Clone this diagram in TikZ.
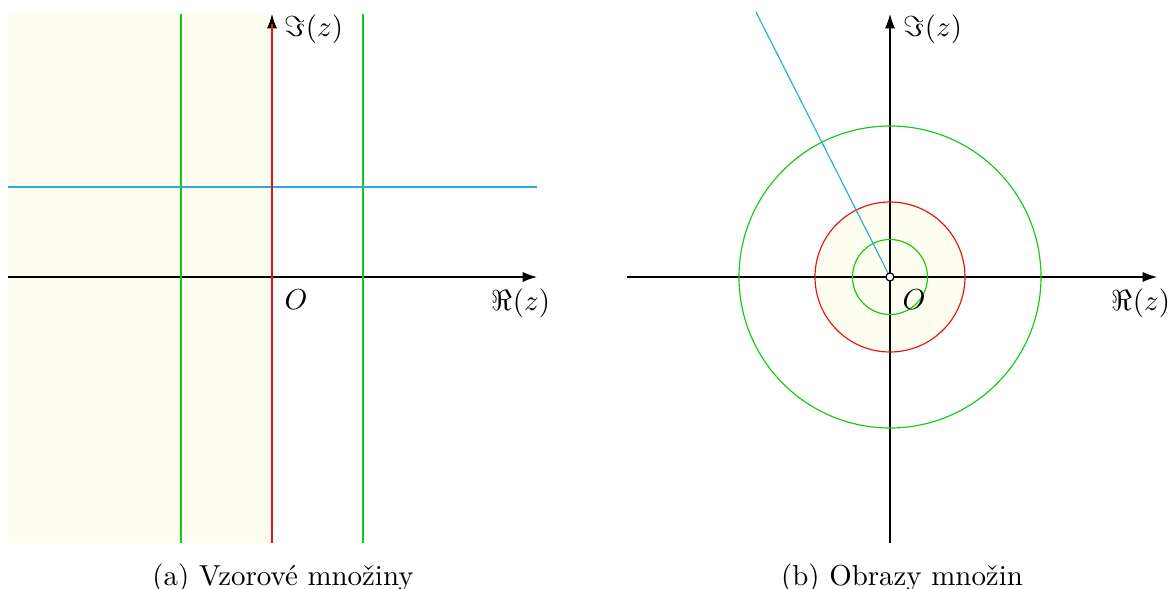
\documentclass[tikz,border=0pt]{standalone}
\usetikzlibrary{arrows.meta}
\definecolor{fillyel}{RGB}{254,254,240}
\definecolor{grn}{RGB}{20,200,20}
\definecolor{blu}{RGB}{40,170,225}
\definecolor{rd}{RGB}{225,20,20}
\begin{document}
\begin{tikzpicture}[x=0.3458pt,y=-0.3458pt,
  axis/.style={line width=0.35pt,-{Latex[length=5pt,width=3.5pt]}},
  gline/.style={grn,line width=0.4pt},
  bline/.style={blu,line width=0.4pt},
  rline/.style={rd,line width=0.8pt},
  lbl/.style={inner sep=0pt}]
\useasboundingbox (0,0) rectangle (1172,589);
% ---------- left panel ----------
\fill[fillyel] (8,14) rectangle (272,543);
\coordinate (lxs) at (8,277);
\coordinate (lxe) at (537,277);
\coordinate (lys) at (272,543);
\coordinate (lye) at (272,14);
\draw[axis] (lxs) -- (lxe);
\draw[axis] (lys) -- (lye);
\coordinate (g1a) at (181,543); \coordinate (g1b) at (181,14);
\coordinate (g2a) at (363,543); \coordinate (g2b) at (363,14);
\draw[gline] (g1a) -- (g1b);
\draw[gline] (g2a) -- (g2b);
\coordinate (ba) at (8,187); \coordinate (bb) at (537,187);
\draw[bline] (ba) -- (bb);
\coordinate (ra) at (272,543); \coordinate (rb) at (272,24);
\draw[rline] (ra) -- (rb);
\node[lbl] (lim) at (314,29) {$\Im(z)$};
\node[lbl] (lre) at (521,303) {$\Re(z)$};
\node[lbl] (lo) at (296,300) {$O$};
\node[inner sep=0pt] (capa) at (283,578) {(a) Vzorové množiny};
% ---------- right panel ----------
\coordinate (o) at (890,277);
\fill[fillyel] (o) circle[radius=75];
\coordinate (rxs) at (627,277);
\coordinate (rxe) at (1157,277);
\coordinate (rys) at (890,543);
\coordinate (rye) at (890,14);
\draw[axis] (rxs) -- (rxe);
\draw[axis] (rys) -- (rye);
\draw[gline] (o) circle[radius=37.5];
\draw[gline] (o) circle[radius=151];
\draw[rd,line width=0.4pt] (o) circle[radius=75];
\coordinate (bend) at (756,12);
\draw[bline] (o) -- (bend);
\node[circle,draw,fill=white,line width=0.4pt,inner sep=0pt,minimum size=2.8pt] (oc) at (o) {};
\node[lbl] (rim) at (933,29) {$\Im(z)$};
\node[lbl] (rre) at (1141,303) {$\Re(z)$};
\node[lbl] (ro) at (914,300) {$O$};
\node[inner sep=0pt] (capb) at (902,578) {(b) Obrazy množin};
\end{tikzpicture}
\end{document}
